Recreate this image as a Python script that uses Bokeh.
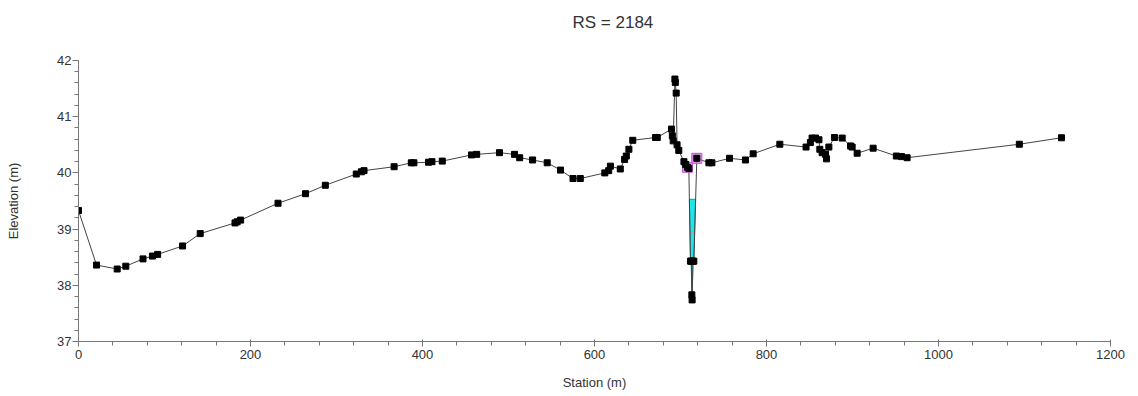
from bokeh.plotting import figure
from bokeh.models import FixedTicker, Range1d
from bokeh.embed import file_html
from bokeh.resources import INLINE
import numpy as np

# ---- data ----
station = [0, 21, 45, 55, 75, 86, 92, 121, 141.5, 182, 184.5, 188.5, 232, 264, 287,
           323, 329, 332, 367, 387, 390, 407, 411, 423, 457, 463, 489.5, 507, 513,
           528, 545, 560.5, 575, 583.5, 612, 616.5, 618.5, 630, 635, 637, 640, 644.5,
           671, 673, 689.5, 690.5, 691.5, 693.5, 694, 695, 696, 698, 704, 706, 708,
           709.7, 711.6, 712.5, 713.2, 713.5, 714.5, 715.5, 719, 733, 736.5, 757,
           775.5, 784.5, 815.5, 846, 851, 853, 857, 861, 862, 864.7, 868.6, 869.8,
           872.5, 879, 888, 897.7, 899.6, 905.4, 924, 951, 957, 963.5, 1094, 1143]
elevation = [39.33, 38.36, 38.29, 38.34, 38.47, 38.52, 38.55, 38.70, 38.92, 39.11,
             39.13, 39.16, 39.46, 39.63, 39.78, 39.98, 40.02, 40.04, 40.11, 40.18,
             40.18, 40.19, 40.20, 40.21, 40.32, 40.33, 40.36, 40.33, 40.27, 40.23,
             40.18, 40.05, 39.90, 39.90, 40.00, 40.04, 40.12, 40.07, 40.24, 40.30,
             40.42, 40.58, 40.63, 40.63, 40.78, 40.66, 40.57, 41.67, 41.61, 41.42,
             40.50, 40.40, 40.20, 40.15, 40.10, 40.08, 38.43, 38.43, 37.83, 37.74,
             38.43, 38.43, 40.26, 40.18, 40.18, 40.26, 40.23, 40.34, 40.51, 40.46,
             40.54, 40.62, 40.62, 40.59, 40.42, 40.36, 40.33, 40.25, 40.46, 40.63,
             40.62, 40.48, 40.46, 40.35, 40.44, 40.30, 40.29, 40.27, 40.51, 40.625]
bank_station = [708, 719]
bank_elevation = [40.10, 40.26]
water_surface = 39.53
critical_ws = 38.95
title_text = "RS = 2184"
x_label = "Station (m)"
y_label = "Elevation (m)"
x_ticks = [0, 200, 400, 600, 800, 1000, 1200]
y_ticks = [37, 38, 39, 40, 41, 42]

FONT = "Liberation Sans"


def crossings(st, el, level, lo, hi):
    """ground points below level between lo and hi plus the crossings"""
    st = np.asarray(st, float)
    el = np.asarray(el, float)
    xs, ys = [], []
    for i in range(len(st) - 1):
        a, b = st[i], st[i + 1]
        if b < lo or a > hi:
            continue
        ea, eb = el[i], el[i + 1]
        if ea < level and a >= lo:
            xs.append(a)
            ys.append(ea)
        if (ea - level) * (eb - level) < 0:
            t = (level - ea) / (eb - ea)
            xs.append(a + t * (b - a))
            ys.append(level)
    return xs, ys


p = figure(width=1138, height=396, output_backend="svg", toolbar_location=None,
           x_range=Range1d(0, 1200), y_range=Range1d(37, 42),
           min_border_left=78, min_border_right=28, min_border_top=60,
           min_border_bottom=55, background_fill_color="white",
           border_fill_color="white")
p.outline_line_color = None
p.xgrid.visible = False
p.ygrid.visible = False

# water in the channel
wx, wy = crossings(station, elevation, water_surface, bank_station[0], bank_station[1])
p.patch(wx, wy, fill_color="#22e4ec", line_color="#159a9a", line_width=1)

# critical depth marker
cx, cy = crossings(station, elevation, critical_ws, bank_station[0], bank_station[1])
p.line([min(cx), max(cx)], [critical_ws, critical_ws], line_color="#f08070",
       line_width=1.5, line_alpha=0.8)

# ground line
p.line(station, elevation, line_color="#444444", line_width=1)

# bank stations
p.scatter(bank_station, bank_elevation, marker="square", size=10,
          fill_color="#e080e8", fill_alpha=0.8, line_color="#c050d0")

# ground points
p.scatter(station, elevation, marker="square", size=6, fill_color="black",
          line_color="black")

# axes
for ax in (p.xaxis[0], p.yaxis[0]):
    ax.axis_line_color = "#777777"
    ax.major_tick_line_color = "#777777"
    ax.minor_tick_line_color = "#777777"
    ax.major_label_text_font = FONT
    ax.major_label_text_font_size = "13px"
    ax.major_label_text_color = "#333333"
    ax.axis_label_text_font = FONT
    ax.axis_label_text_font_size = "13px"
    ax.axis_label_text_font_style = "normal"
    ax.axis_label_text_color = "#333333"

p.xaxis.ticker = FixedTicker(ticks=x_ticks, minor_ticks=list(range(0, 1201, 40)))
p.yaxis.ticker = FixedTicker(ticks=y_ticks,
                             minor_ticks=[37 + 0.2 * i for i in range(26)])
p.xaxis.axis_label = x_label
p.yaxis.axis_label = y_label
p.xaxis.major_tick_in = 2
p.xaxis.major_tick_out = 5
p.xaxis.minor_tick_in = 0
p.xaxis.minor_tick_out = 4
p.xaxis.major_label_standoff = 3
p.xaxis.axis_label_standoff = 13
p.yaxis.major_tick_in = 0
p.yaxis.major_tick_out = 6
p.yaxis.minor_tick_in = 0
p.yaxis.minor_tick_out = 4
p.yaxis.major_label_standoff = 1
p.yaxis.axis_label_standoff = 33

# title: a second (blank) line lifts the text to the top of the border area
p.title.text = title_text + "\n "
p.title.align = "left"
p.title.offset = 494
p.title.text_font = FONT
p.title.text_font_size = "17px"
p.title.text_font_style = "normal"
p.title.text_color = "#333333"
p.title.standoff = 19

open("out.html", "w").write(file_html(p, INLINE))
